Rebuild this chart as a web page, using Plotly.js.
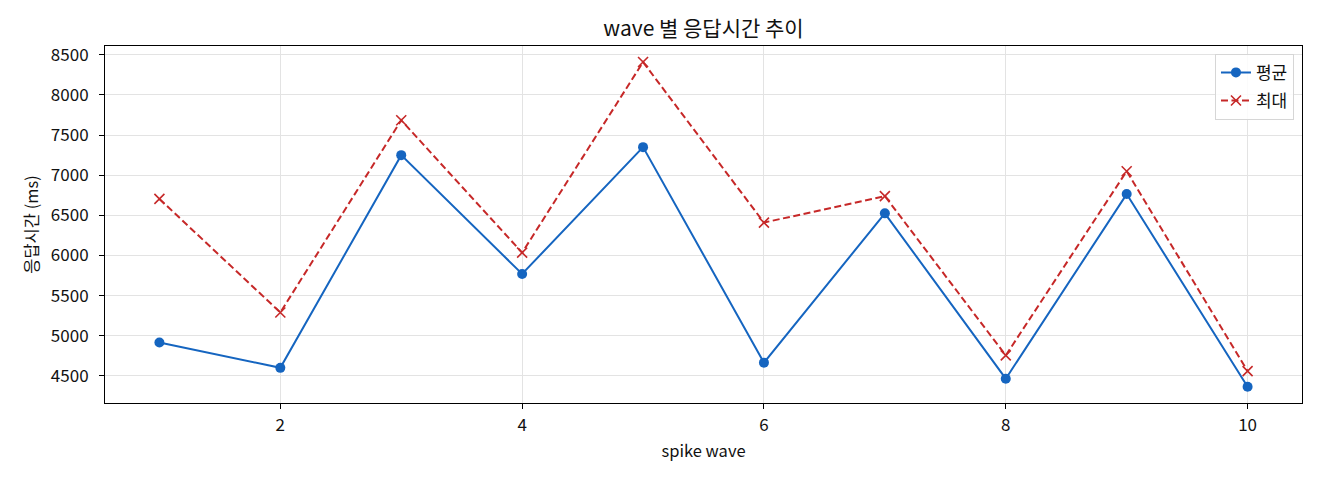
<!DOCTYPE html>
<html>
<head>
<meta charset="utf-8">
<script src="https://cdn.plot.ly/plotly-3.0.1.min.js"></script>
<style>
  html, body { margin: 0; padding: 0; background: #fff; }
  #chart { width: 1320px; height: 480px; }
</style>
</head>
<body>
<div id="chart"></div>
<script>
// spike wave 번호
var waves = [1, 2, 3, 4, 5, 6, 7, 8, 9, 10];
// 평균 응답시간 (ms)
var avgMs = [4915, 4600, 7250, 5770, 7350, 4665, 6525, 4465, 6765, 4365];
// 최대 응답시간 (ms)
var maxMs = [6705, 5290, 7685, 6035, 8410, 6410, 6740, 4755, 7050, 4560];

var yTicks = [4500, 5000, 5500, 6000, 6500, 7000, 7500, 8000, 8500];
var xTicks = [2, 4, 6, 8, 10];

var font = '"Noto Sans CJK KR", "DejaVu Sans", sans-serif';

var avgTrace = {
  x: waves,
  y: avgMs,
  name: '평균',
  legendgroup: 'avg',
  type: 'scatter',
  mode: 'lines+markers',
  line: { color: '#1565c0', width: 2 },
  marker: { color: '#1565c0', size: 10, symbol: 'circle' }
};

var maxTrace = {
  x: waves,
  y: maxMs,
  name: '최대',
  legendgroup: 'max',
  type: 'scatter',
  mode: 'lines+markers',
  line: { color: '#c62828', width: 2, dash: '7px,3.5px' },
  marker: { color: '#c62828', size: 10, symbol: 'x-thin', line: { color: '#c62828', width: 1.6 } }
};

var layout = {
  width: 1320,
  height: 480,
  margin: { l: 105, r: 18, t: 46, b: 77 },
  paper_bgcolor: '#fff',
  plot_bgcolor: '#fff',
  font: { family: font, size: 16, color: '#111' },
  title: {
    text: 'wave 별 응답시간 추이',
    xref: 'paper', x: 0.5, xanchor: 'center',
    y: 0.94, yanchor: 'middle',
    font: { family: font, size: 21, color: '#111' }
  },
  xaxis: {
    range: [0.55, 10.45],
    tickvals: xTicks,
    ticktext: xTicks.map(String),
    ticks: 'outside', ticklen: 5, tickcolor: '#000',
    tickfont: { family: font, size: 17, color: '#111' },
    ticklabelstandoff: 2,
    showgrid: true, gridcolor: '#e3e3e3', gridwidth: 1,
    showline: true, linecolor: '#000', linewidth: 1, mirror: true,
    zeroline: false,
    title: { text: 'spike wave', font: { family: font, size: 16.5, color: '#111' }, standoff: 10 }
  },
  yaxis: {
    range: [4162, 8610],
    tickvals: yTicks,
    ticktext: yTicks.map(String),
    ticks: 'outside', ticklen: 5, tickcolor: '#000',
    tickfont: { family: font, size: 17, color: '#111' },
    ticklabelstandoff: 7,
    showgrid: true, gridcolor: '#e3e3e3', gridwidth: 1,
    showline: true, linecolor: '#000', linewidth: 1, mirror: true,
    zeroline: false,
    title: { text: '응답시간 (ms)', font: { family: font, size: 16.5, color: '#111' }, standoff: 8 }
  },
  legend: {
    x: 0.9933, y: 0.978, xanchor: 'right', yanchor: 'top',
    traceorder: 'grouped', tracegroupgap: 3,
    bgcolor: 'rgba(255,255,255,0.85)',
    bordercolor: '#d6d6d6', borderwidth: 1,
    font: { family: font, size: 17, color: '#111' }
  },
  showlegend: true
};

Plotly.newPlot('chart', [avgTrace, maxTrace], layout, { displayModeBar: false, staticPlot: true });
</script>
</body>
</html>
